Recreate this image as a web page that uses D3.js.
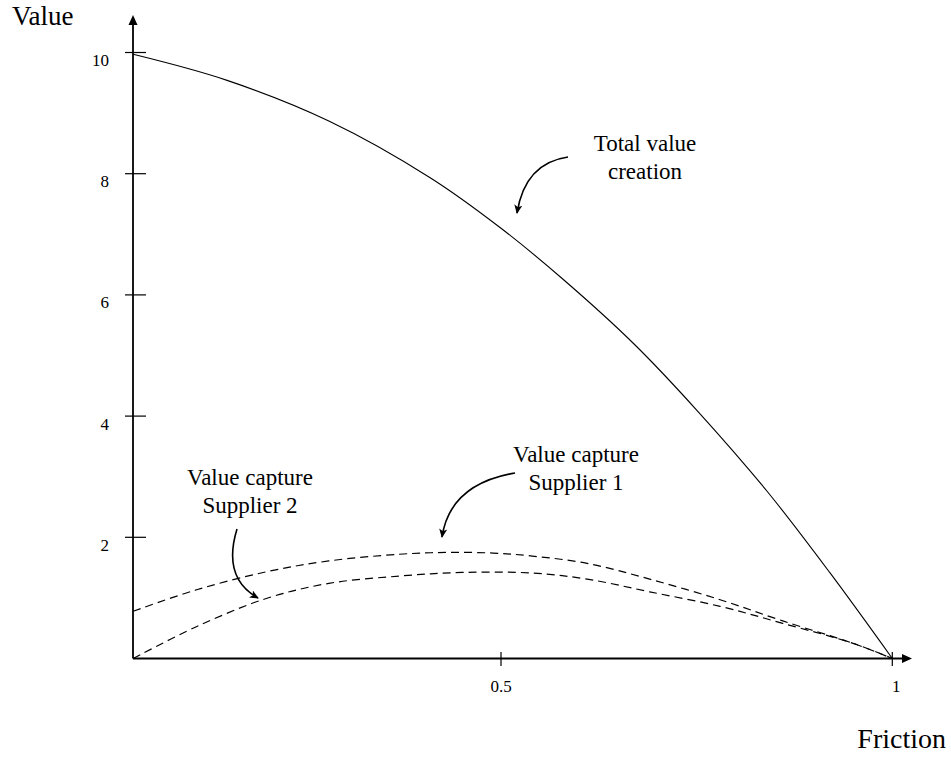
<!DOCTYPE html>
<html>
<head>
<meta charset="utf-8">
<script src="https://cdn.jsdelivr.net/npm/d3@7"></script>
<style>
  html, body { margin: 0; padding: 0; background: #fff; }
  svg { display: block; font-family: "Liberation Serif", "Times New Roman", serif; }
</style>
</head>
<body>
<svg id="chart" width="951" height="757"></svg>
<script>
// ---- data ----
const totalX = [0.03, 0.15, 0.28, 0.41, 0.50, 0.58, 0.67, 0.75, 0.84, 0.92, 1.0];
const totalV = [9.97, 9.54, 8.87, 7.93, 7.10, 6.25, 5.19, 4.10, 2.76, 1.42, 0];

const supplier1X = [0.03, 0.11, 0.20, 0.28, 0.37, 0.43, 0.49, 0.54, 0.61, 0.69, 0.78, 0.86, 0.95, 1.0];
const supplier1V = [0.78, 1.13, 1.43, 1.61, 1.72, 1.75, 1.74, 1.69, 1.57, 1.31, 0.97, 0.62, 0.25, 0];

const supplier2X = [0.03, 0.11, 0.20, 0.28, 0.37, 0.45, 0.54, 0.61, 0.69, 0.78, 0.86, 0.95, 1.0];
const supplier2V = [0.00, 0.52, 0.99, 1.24, 1.36, 1.42, 1.41, 1.31, 1.10, 0.86, 0.58, 0.25, 0];

const xTicks = [0.5, 1];
const xTickLabels = ["0.5", "1"];
const yTicks = [2, 4, 6, 8, 10];
const yTickLabels = ["2", "4", "6", "8", "10"];

const xTitle = "Friction";
const yTitle = "Value";
const noteTotal = ["Total value", "creation"];
const noteS1 = ["Value capture", "Supplier 1"];
const noteS2 = ["Value capture", "Supplier 2"];

// ---- drawing ----
const svg = d3.select("#chart");
const x = d3.scaleLinear().domain([0, 1]).range([109.7, 892.3]);
const y = d3.scaleLinear().domain([0, 10]).range([658.5, 52.5]);
const axisX0 = 133, axisY0 = y(0);

const defs = svg.append("defs");
defs.append("marker").attr("id", "ah").attr("viewBox", "0 0 10 10")
  .attr("refX", 9).attr("refY", 5).attr("markerWidth", 9).attr("markerHeight", 9)
  .attr("markerUnits", "userSpaceOnUse").attr("orient", "auto")
  .append("path").attr("d", "M0,0.5 L10,5 L0,9.5 L2.5,5 Z").attr("fill", "#000");

// axes lines
svg.append("line").attr("x1", axisX0).attr("y1", axisY0).attr("x2", axisX0).attr("y2", 24)
  .attr("stroke", "#000").attr("stroke-width", 1.8);
svg.append("path").attr("d", `M${axisX0},15 L${axisX0 - 4.5},25 L${axisX0 + 4.5},25 Z`).attr("fill", "#000");
svg.append("line").attr("x1", axisX0).attr("y1", axisY0).attr("x2", 903).attr("y2", axisY0)
  .attr("stroke", "#000").attr("stroke-width", 1.8);
svg.append("path").attr("d", `M912,${axisY0} L902,${axisY0 - 4.5} L902,${axisY0 + 4.5} Z`).attr("fill", "#000");

// y ticks
const yt = svg.append("g");
yt.selectAll("line").data(yTicks).enter().append("line")
  .attr("x1", axisX0 - 8).attr("x2", axisX0 + 13)
  .attr("y1", d => y(d)).attr("y2", d => y(d))
  .attr("stroke", "#000").attr("stroke-width", 1.2);
yt.selectAll("text").data(yTicks).enter().append("text")
  .attr("x", 109).attr("y", d => y(d) + 13.5)
  .attr("text-anchor", "end").attr("font-size", 17).attr("fill", "#000")
  .text((d, i) => yTickLabels[i]);

// x ticks
const xt = svg.append("g");
xt.selectAll("line").data(xTicks).enter().append("line")
  .attr("x1", d => x(d)).attr("x2", d => x(d))
  .attr("y1", axisY0 - 6.5).attr("y2", axisY0 + 7.5)
  .attr("stroke", "#000").attr("stroke-width", 1.2);
xt.selectAll("text").data(xTicks).enter().append("text")
  .attr("x", (d, i) => x(d) + (i === 1 ? 4 : 0)).attr("y", 692)
  .attr("text-anchor", "middle").attr("font-size", 17).attr("fill", "#000")
  .text((d, i) => xTickLabels[i]);

// axis titles
svg.append("text").attr("x", 12).attr("y", 25).attr("font-size", 27).text(yTitle);
svg.append("text").attr("x", 946).attr("y", 748).attr("text-anchor", "end").attr("font-size", 28).text(xTitle);

// curves
const line = d3.line().x(d => x(d[0])).y(d => y(d[1])).curve(d3.curveCatmullRom.alpha(0.5));
svg.append("path").datum(d3.zip(totalX, totalV)).attr("d", line)
  .attr("fill", "none").attr("stroke", "#000").attr("stroke-width", 1.1);
svg.append("path").datum(d3.zip(supplier1X, supplier1V)).attr("d", line)
  .attr("fill", "none").attr("stroke", "#000").attr("stroke-width", 1.2).attr("stroke-dasharray", "8,5");
svg.append("path").datum(d3.zip(supplier2X, supplier2V)).attr("d", line)
  .attr("fill", "none").attr("stroke", "#000").attr("stroke-width", 1.2).attr("stroke-dasharray", "8,5");

// annotations
function note(lines, cx, by, fs, lh) {
  const t = svg.append("text").attr("text-anchor", "middle").attr("font-size", fs).attr("fill", "#000");
  lines.forEach((s, i) => t.append("tspan").attr("x", cx).attr("y", by + i * lh).text(s));
}
note(noteTotal, 645, 151, 23, 27.5);
note(noteS1, 576, 462, 23, 28);
note(noteS2, 250, 485, 23, 28);

const arrows = [
  "M568,157 Q525,163 517,213",
  "M515,473 Q450,484 442,537",
  "M237,529 Q222,578 258,598"
];
svg.selectAll("path.arr").data(arrows).enter().append("path").attr("class", "arr")
  .attr("d", d => d).attr("fill", "none").attr("stroke", "#000").attr("stroke-width", 1.6)
  .attr("marker-end", "url(#ah)");
</script>
</body>
</html>
